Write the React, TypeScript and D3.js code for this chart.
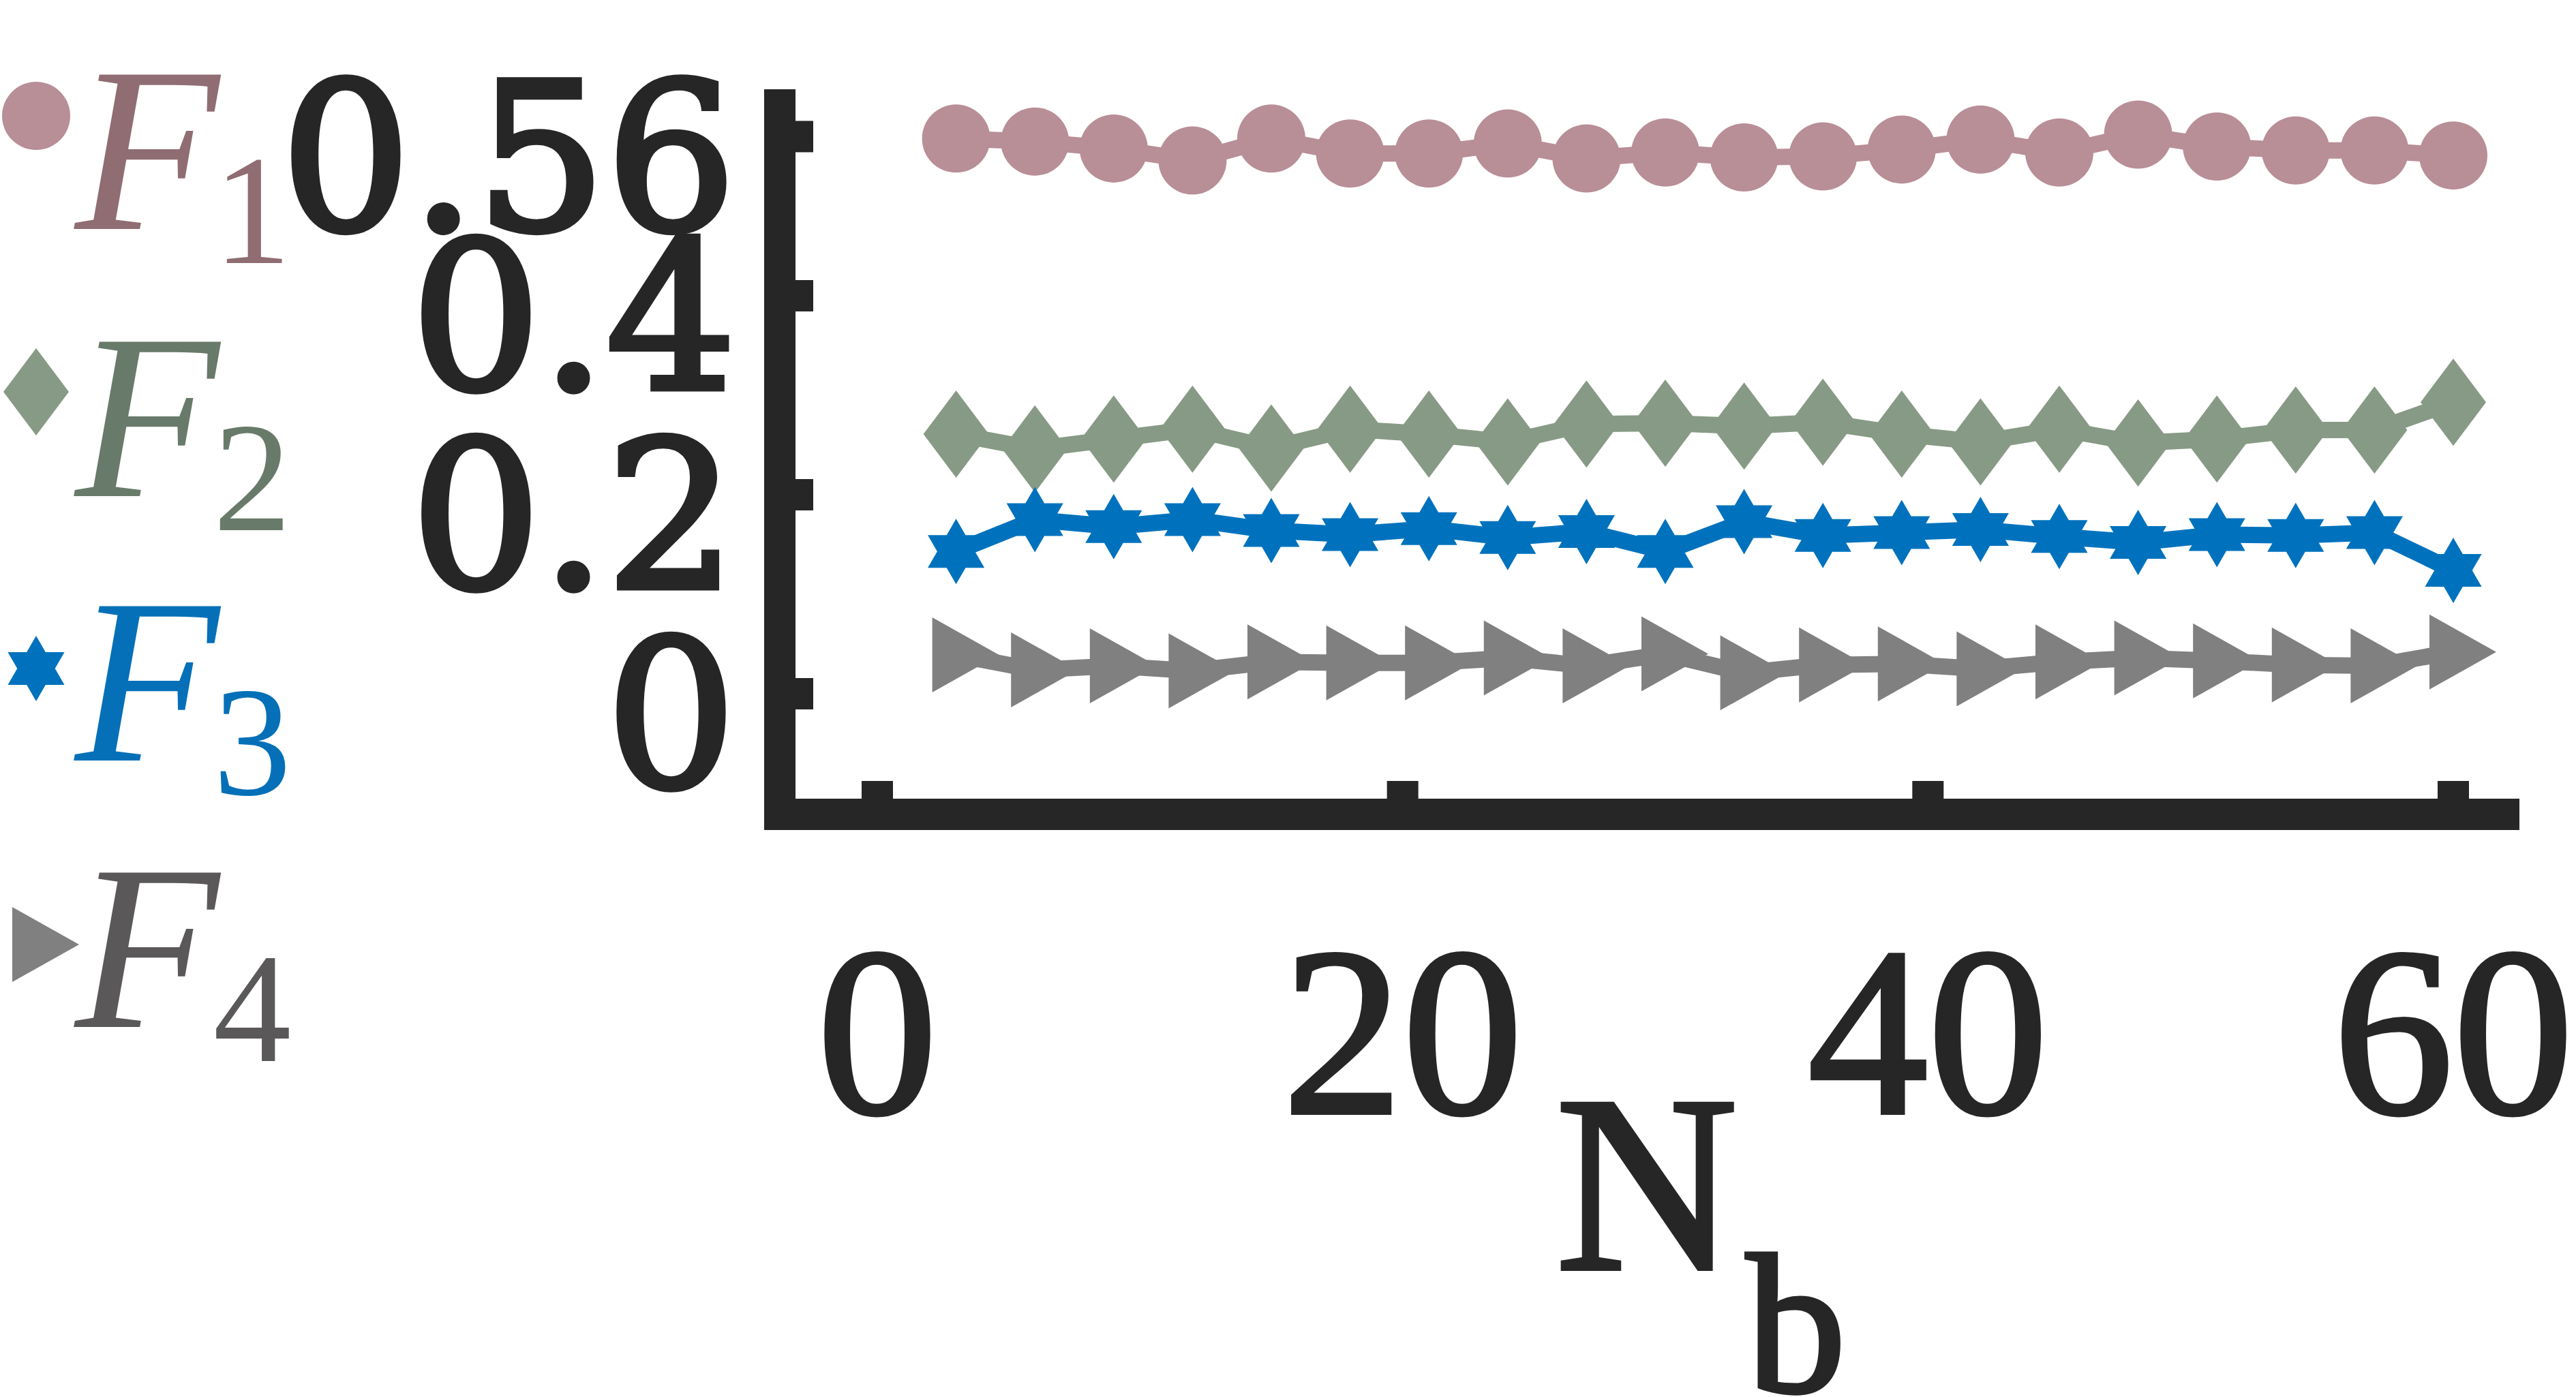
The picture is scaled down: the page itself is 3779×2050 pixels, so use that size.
import { useRef, useEffect } from 'react'
import * as d3 from 'd3'

// N_b sample points
const N_B = [3, 6, 9, 12, 15, 18, 21, 24, 27, 30, 33, 36, 39, 42, 45, 48, 51, 54, 57, 60]

// series values
const F1 = [0.558, 0.555, 0.548, 0.536, 0.558, 0.543, 0.543, 0.553, 0.538, 0.544, 0.539, 0.54, 0.547, 0.557, 0.544, 0.562, 0.55, 0.546, 0.546, 0.541]
const F2 = [0.261, 0.246, 0.256, 0.266, 0.247, 0.266, 0.261, 0.253, 0.271, 0.272, 0.269, 0.273, 0.261, 0.253, 0.266, 0.252, 0.256, 0.265, 0.265, 0.293]
const F3 = [0.143, 0.175, 0.168, 0.175, 0.164, 0.16, 0.166, 0.157, 0.163, 0.143, 0.173, 0.159, 0.162, 0.165, 0.158, 0.152, 0.16, 0.159, 0.162, 0.124]
const F4 = [0.039, 0.024, 0.028, 0.023, 0.032, 0.031, 0.031, 0.036, 0.028, 0.04, 0.021, 0.029, 0.03, 0.025, 0.032, 0.036, 0.033, 0.029, 0.028, 0.042]

const SUBSCRIPTS = ['1', '2', '3', '4']
const MARKER_COLORS = ['#B88E97', '#879A85', '#0072BD', '#808080']
const LABEL_COLORS = ['#8F6D73', '#687A6A', '#0570B8', '#5A5858']
const MARKER_KINDS = ['circle', 'diamond', 'hexagram', 'triangle']

const X_TICKS = [0, 20, 40, 60]
const X_TICK_LABELS = ['0', '20', '40', '60']
const Y_TICKS = [0, 0.2, 0.4, 0.56]
const Y_TICK_LABELS = ['0', '0.2', '0.4', '0.56']

const INK = '#262626'
const W = 3779
const H = 2050

function markerPath(kind: string): string {
  if (kind === 'circle') return d3.symbol(d3.symbolCircle, Math.PI * 50 * 50)() as string
  if (kind === 'diamond') return 'M0,-64L48,0L0,64L-48,0Z'
  if (kind === 'triangle') return 'M-35,-55L63,0L-35,55Z'
  // hexagram
  const R = 48
  const r = R / Math.sqrt(3)
  const p = d3.path()
  for (let k = 0; k < 12; k++) {
    const a = ((-90 + k * 30) * Math.PI) / 180
    const rad = k % 2 === 0 ? R : r
    const px = rad * Math.cos(a)
    const py = rad * Math.sin(a)
    if (k === 0) p.moveTo(px, py)
    else p.lineTo(px, py)
  }
  p.closePath()
  return p.toString()
}

function Chart() {
  const svgRef = useRef<SVGSVGElement | null>(null)

  useEffect(() => {
    const svg = svgRef.current
    if (!svg) return
    const sel = d3.select(svg)
    sel.selectAll('*').remove()

    sel.append('rect').attr('width', W).attr('height', H).attr('fill', '#fff')

    const x = d3.scaleLinear().domain([0, 60]).range([1287, 3599])
    const y = d3.scaleLinear().domain([0, 0.56]).range([1018, 200.4])

    const ax = { left: 1121, right: 3696, top: 131, bottom: 1218, thick: 46, tick: 26 }

    // axes (thick box-less frame)
    sel.append('rect')
      .attr('x', ax.left).attr('y', ax.top)
      .attr('width', ax.thick).attr('height', ax.bottom - ax.top)
      .attr('fill', INK)
    sel.append('rect')
      .attr('x', ax.left).attr('y', ax.bottom - ax.thick)
      .attr('width', ax.right - ax.left).attr('height', ax.thick)
      .attr('fill', INK)

    // heavy serif text: fill plus a thin stroke of the same colour
    const heavy = (t: d3.Selection<SVGTextElement, unknown, null, undefined>, w: number) =>
      t.attr('fill', INK).attr('stroke', INK).attr('stroke-width', w).attr('stroke-linejoin', 'miter')

    Y_TICKS.forEach((t, i) => {
      sel.append('rect')
        .attr('x', ax.left + ax.thick).attr('y', y(t) - ax.thick / 2)
        .attr('width', ax.tick).attr('height', ax.thick)
        .attr('fill', INK)
      const lab = sel.append('text')
        .attr('x', 1080).attr('y', y(t) + 136)
        .attr('text-anchor', 'end')
        .attr('font-family', "'DejaVu Serif', serif")
        .attr('font-size', 300)
        .text(Y_TICK_LABELS[i])
      heavy(lab, 9)
    })

    X_TICKS.forEach((t, i) => {
      sel.append('rect')
        .attr('x', x(t) - ax.thick / 2).attr('y', ax.bottom - ax.thick - ax.tick)
        .attr('width', ax.thick).attr('height', ax.tick)
        .attr('fill', INK)
      const lab = sel.append('text')
        .attr('x', x(t)).attr('y', 1633)
        .attr('text-anchor', 'middle')
        .attr('font-family', "'Liberation Serif', serif")
        .attr('font-size', 352)
        .text(X_TICK_LABELS[i])
      heavy(lab, 6)
    })

    // x label N_b
    heavy(sel.append('text')
      .attr('x', 2282).attr('y', 1862)
      .attr('font-family', "'Liberation Serif', serif")
      .attr('font-size', 370)
      .text('N'), 6)
    heavy(sel.append('text')
      .attr('x', 2562).attr('y', 2042)
      .attr('font-family', "'Liberation Serif', serif")
      .attr('font-size', 292)
      .text('b'), 6)

    // series
    const series = [F1, F2, F3, F4]
    const line = d3.line<number>()
      .x((d, i) => x(N_B[i]))
      .y((d) => y(d))

    series.forEach((vals, si) => {
      sel.append('path')
        .datum(vals)
        .attr('fill', 'none')
        .attr('stroke', MARKER_COLORS[si])
        .attr('stroke-width', 24)
        .attr('stroke-linejoin', 'round')
        .attr('d', line)
      const shape = markerPath(MARKER_KINDS[si])
      sel.append('g')
        .selectAll('path')
        .data(vals)
        .join('path')
        .attr('transform', (d, i) => `translate(${x(N_B[i])},${y(d)})`)
        .attr('d', shape)
        .attr('fill', MARKER_COLORS[si])
    })

    // legend on the left
    const legendMarkerY = [170, 575, 981, 1386]
    const legendBase = [336, 728, 1116, 1507]
    SUBSCRIPTS.forEach((s, i) => {
      sel.append('path')
        .attr('transform', `translate(53,${legendMarkerY[i]})`)
        .attr('d', markerPath(MARKER_KINDS[i]))
        .attr('fill', MARKER_COLORS[i])
      sel.append('text')
        .attr('x', 110).attr('y', legendBase[i])
        .attr('font-family', "'Liberation Serif', serif")
        .attr('font-style', 'italic')
        .attr('font-size', 346)
        .attr('fill', LABEL_COLORS[i])
        .text('F')
      sel.append('text')
        .attr('x', 370).attr('y', legendBase[i] + 50)
        .attr('text-anchor', 'middle')
        .attr('font-family', "'Liberation Serif', serif")
        .attr('font-size', 229)
        .attr('fill', LABEL_COLORS[i])
        .text(s)
    })
  }, [])

  return (
    <svg
      ref={svgRef}
      width={W}
      height={H}
      style={{ position: 'absolute', left: 0, top: 0, display: 'block' }}
    />
  )
}

export default function App() {
  return <Chart />
}
